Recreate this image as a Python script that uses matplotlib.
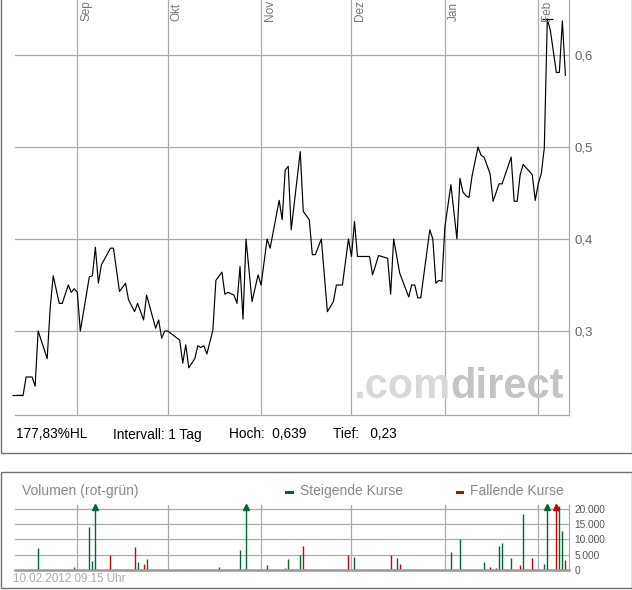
import matplotlib
matplotlib.use("Agg")
import matplotlib.pyplot as plt
import matplotlib.dates as mdates
from matplotlib.patches import Rectangle
import pandas as pd

plt.rcParams['font.family'] = ['Liberation Sans', 'DejaVu Sans']

# price series
price_dates = [
    "2011-08-12", "2011-08-14", "2011-08-15", "2011-08-17", "2011-08-18", "2011-08-19",
    "2011-08-22", "2011-08-23", "2011-08-24", "2011-08-26", "2011-08-27", "2011-08-29",
    "2011-08-30", "2011-08-31", "2011-09-01", "2011-09-02", "2011-09-05", "2011-09-06",
    "2011-09-07", "2011-09-08", "2011-09-09", "2011-09-12", "2011-09-13", "2011-09-15",
    "2011-09-17", "2011-09-18", "2011-09-20", "2011-09-21", "2011-09-23", "2011-09-24",
    "2011-09-27", "2011-09-28", "2011-09-29", "2011-09-30", "2011-10-01", "2011-10-05",
    "2011-10-06", "2011-10-07", "2011-10-08", "2011-10-10", "2011-10-11", "2011-10-12",
    "2011-10-13", "2011-10-14", "2011-10-16", "2011-10-17", "2011-10-19", "2011-10-20",
    "2011-10-21", "2011-10-23", "2011-10-24", "2011-10-25", "2011-10-26", "2011-10-27",
    "2011-10-29", "2011-10-31", "2011-11-01", "2011-11-03", "2011-11-04", "2011-11-07",
    "2011-11-08", "2011-11-09", "2011-11-10", "2011-11-11", "2011-11-14", "2011-11-15",
    "2011-11-17", "2011-11-18", "2011-11-19", "2011-11-21", "2011-11-23", "2011-11-25",
    "2011-11-26", "2011-11-28", "2011-11-30", "2011-12-01", "2011-12-02", "2011-12-03",
    "2011-12-07", "2011-12-08", "2011-12-10", "2011-12-13", "2011-12-14", "2011-12-15",
    "2011-12-17", "2011-12-20", "2011-12-21", "2011-12-22", "2011-12-23", "2011-12-24",
    "2011-12-27", "2011-12-28", "2011-12-29", "2011-12-30", "2011-12-31", "2012-01-01",
    "2012-01-03", "2012-01-05", "2012-01-06", "2012-01-07", "2012-01-08", "2012-01-09",
    "2012-01-10", "2012-01-12", "2012-01-13", "2012-01-14", "2012-01-16", "2012-01-17",
    "2012-01-19", "2012-01-20", "2012-01-23", "2012-01-24", "2012-01-25", "2012-01-26",
    "2012-01-27", "2012-01-30", "2012-01-31", "2012-02-01", "2012-02-02", "2012-02-03",
    "2012-02-04", "2012-02-05", "2012-02-07", "2012-02-08", "2012-02-09", "2012-02-10",
]
price_values = [
    0.23, 0.23, 0.25, 0.25, 0.24, 0.30,
    0.27, 0.325, 0.36, 0.33, 0.33, 0.35,
    0.342, 0.346, 0.342, 0.30, 0.359, 0.36,
    0.391, 0.352, 0.372, 0.39, 0.39, 0.343,
    0.352, 0.334, 0.321, 0.33, 0.312, 0.339,
    0.303, 0.312, 0.292, 0.30, 0.30, 0.29,
    0.265, 0.285, 0.26, 0.27, 0.284, 0.282,
    0.284, 0.275, 0.301, 0.355, 0.364, 0.34,
    0.342, 0.339, 0.33, 0.37, 0.313, 0.40,
    0.332, 0.361, 0.35, 0.40, 0.39, 0.442,
    0.421, 0.475, 0.479, 0.41, 0.495, 0.43,
    0.421, 0.383, 0.383, 0.40, 0.321, 0.332,
    0.35, 0.35, 0.40, 0.381, 0.419, 0.381,
    0.381, 0.361, 0.382, 0.379, 0.34, 0.40,
    0.363, 0.337, 0.35, 0.35, 0.336, 0.336,
    0.41, 0.40, 0.352, 0.355, 0.354, 0.413,
    0.459, 0.40, 0.466, 0.451, 0.447, 0.445,
    0.468, 0.50, 0.491, 0.489, 0.471, 0.441,
    0.46, 0.46, 0.489, 0.441, 0.441, 0.47,
    0.481, 0.47, 0.442, 0.46, 0.471, 0.499,
    0.639, 0.627, 0.581, 0.581, 0.637, 0.578,
]

high_date, high_value = "2012-02-04", 0.639
low_date, low_value = "2011-08-12", 0.23

month_starts = ["2011-09-01", "2011-10-01", "2011-11-01", "2011-12-01", "2012-01-01", "2012-02-01"]
month_labels = ["Sep", "Okt", "Nov", "Dez", "Jan", "Feb"]

price_ticks = [0.3, 0.4, 0.5, 0.6]
price_tick_labels = ["0,3", "0,4", "0,5", "0,6"]

stats_labels = ["177,83%HL", "Intervall: 1 Tag", "Hoch:  0,639", "Tief:   0,23"]

# volume (values above 20.000 are cut off in the chart and marked with an arrow)
vol_dates = [
    "2011-08-19", "2011-08-31", "2011-09-05", "2011-09-06", "2011-09-07", "2011-09-12",
    "2011-09-20", "2011-09-21", "2011-09-23", "2011-09-24", "2011-10-07", "2011-10-18",
    "2011-10-25", "2011-10-27", "2011-11-03", "2011-11-09", "2011-11-10", "2011-11-14",
    "2011-11-15", "2011-11-30", "2011-12-02", "2011-12-10", "2011-12-14", "2011-12-16",
    "2011-12-17", "2012-01-03", "2012-01-06", "2012-01-14", "2012-01-16", "2012-01-18",
    "2012-01-19", "2012-01-20", "2012-01-23", "2012-01-26", "2012-01-27", "2012-01-30",
    "2012-02-03", "2012-02-04", "2012-02-07", "2012-02-08", "2012-02-09", "2012-02-10",
]
vol_values = [
    7100, 900, 14000, 2850, 30000, 4900,
    7540, 2500, 1970, 3500, 300, 980,
    6450, 30000, 1640, 650, 3500, 4800,
    7870, 4900, 4150, 330, 4900, 3830,
    1970, 5800, 10160, 2500, 980, 770,
    7970, 8850, 3930, 1640, 18360, 3930,
    2070, 30000, 30000, 21000, 12790, 3280,
]
vol_up = [
    True, True, True, True, True, False,
    False, True, False, True, False, True,
    True, True, True, True, True, True,
    False, False, True, False, False, True,
    False, True, True, True, False, False,
    True, True, True, False, True, False,
    True, True, False, True, True, False,
]
vol_ticks = [0, 5000, 10000, 15000, 20000]
vol_tick_labels = ["0", "5.000", "10.000", "15.000", "20.000"]

GREEN = "#006633"
RED = "#cc0000"
GRID = "#aaaaaa"

W, H = 632, 590
fig = plt.figure(figsize=(W / 100, H / 100), dpi=100)


def box(x0, y0, x1, y1):
    # pixel box (top-left origin) -> figure fractions
    return [x0 / W, 1 - y1 / H, (x1 - x0) / W, (y1 - y0) / H]


for (x0, y0, x1, y1) in [(0.5, -10, 631.5, 452.5), (0.5, 471.5, 631.5, 587.5)]:
    l, b, w, h = box(x0, y0, x1, y1)
    fig.add_artist(Rectangle((l, b), w, h, transform=fig.transFigure,
                             fill=False, edgecolor="#707070", lw=1.0))

sep1 = pd.Timestamp("2011-09-01")
x_lo = mdates.date2num(sep1 + pd.Timedelta(days=-20.68))
x_hi = mdates.date2num(sep1 + pd.Timedelta(days=163.2))
months = mdates.date2num(pd.to_datetime(month_starts))

# price panel
ax = fig.add_axes(box(15, -20, 569, 415))
ax.plot(mdates.date2num(pd.to_datetime(price_dates)), price_values, color="black", lw=0.85)
half = 1.8
for d, v in [(high_date, high_value), (low_date, low_value)]:
    d = mdates.date2num(pd.Timestamp(d))
    ax.hlines(v, d - half, d + half, color="black", lw=0.85, clip_on=False)
ax.set_xlim(x_lo, x_hi)
ax.set_ylim(0.2087, 0.6815)
ax.set_xticks(months)
ax.tick_params(axis="x", length=0, labelbottom=False)
ax.yaxis.tick_right()
ax.set_yticks(price_ticks, price_tick_labels)
ax.tick_params(axis="y", length=0, pad=4, labelsize=9.5, labelcolor="#666666")
ax.grid(True, color=GRID, lw=0.9)
ax.set_axisbelow(True)
for s in ["left", "top"]:
    ax.spines[s].set_visible(False)
for s in ["bottom", "right"]:
    ax.spines[s].set_color(GRID)
    ax.spines[s].set_linewidth(0.9)
for d, lab in zip(months, month_labels):
    ax.annotate(lab, xy=(d, 0.9057), xycoords=ax.get_xaxis_transform(),
                xytext=(2, 0), textcoords="offset points", rotation=90,
                ha="left", va="bottom", fontsize=8.5, color="#777777",
                annotation_clip=False)

# watermark
fig.text(450 / W, 1 - 398 / H, ".com", ha="right", va="baseline",
         fontsize=30, fontweight="bold", color="#d8d8d8")
fig.text(450 / W, 1 - 398 / H, "direct", ha="left", va="baseline",
         fontsize=30, fontweight="bold", color="#c4c4c4")

# stats row
for x, lab in zip([16, 113, 229, 333], stats_labels):
    fig.text(x / W, 1 - 438.5 / H, lab, ha="left", va="baseline", fontsize=9.8, color="black")

# volume panel
vax = fig.add_axes(box(15, 505, 569, 570))
vtop = 21300
vd = mdates.date2num(pd.to_datetime(vol_dates))
colors = [GREEN if u else RED for u in vol_up]
vax.vlines(vd, 0, vol_values, colors=colors, lw=1.0)
for d, v, c in zip(vd, vol_values, colors):
    if v > vtop:
        vax.plot([d], [20650], marker="^", ms=5, color=c, clip_on=False)
vax.set_xlim(x_lo, x_hi)
vax.set_ylim(0, vtop)
vax.set_xticks(months)
vax.tick_params(axis="x", length=0, labelbottom=False)
vax.yaxis.tick_right()
vax.set_yticks(vol_ticks, vol_tick_labels)
vax.tick_params(axis="y", length=0, pad=4, labelsize=7.3, labelcolor="#555555")
vax.grid(True, color=GRID, lw=0.9)
vax.set_axisbelow(True)
for s in ["left", "top"]:
    vax.spines[s].set_visible(False)
vax.spines["right"].set_color(GRID)
vax.spines["bottom"].set_color("#999999")
vax.spines["bottom"].set_linewidth(1.8)

fig.text(22 / W, 1 - 495 / H, "Volumen (rot-grün)", ha="left", va="baseline",
         fontsize=10, color="#888888")
for x, c, lab in [(285, GREEN, "Steigende Kurse"), (455.5, RED, "Fallende Kurse")]:
    l, b, w, h = box(x, 490.5, x + 8.5, 493.5)
    fig.add_artist(Rectangle((l, b), w, h, transform=fig.transFigure,
                             facecolor=c, edgecolor="none"))
    fig.text((x + 15) / W, 1 - 495 / H, lab, ha="left", va="baseline",
             fontsize=10, color="#888888")
fig.text(13 / W, 1 - 582.5 / H, "10.02.2012 09:15 Uhr", ha="left", va="baseline",
         fontsize=8.4, color="#aaaaaa")

fig.savefig("out.png", dpi=100)
